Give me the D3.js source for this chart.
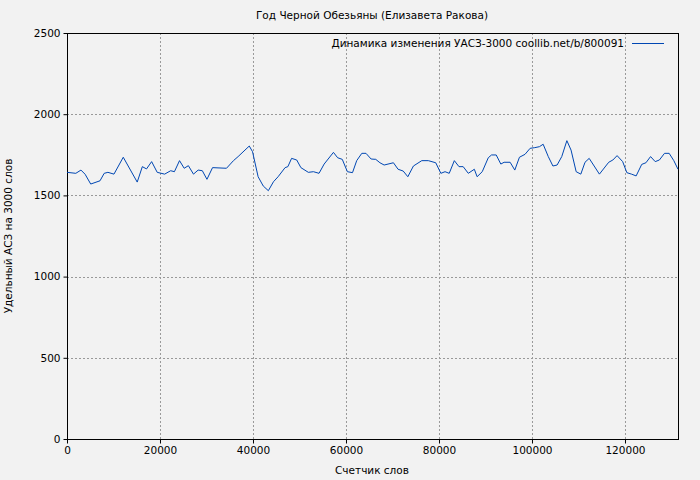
<!DOCTYPE html><html><head><meta charset="utf-8"><script src="https://cdn.jsdelivr.net/npm/d3@7"></script>
<style>body{margin:0;background:#f2f2f2}text{font-family:"DejaVu Sans",sans-serif;font-size:10.5px}</style></head><body><svg id="c" width="700" height="480"></svg>
<script>
const words=[0,1900,3000,3900,5100,7100,8000,8800,10100,12100,15100,16200,17100,18200,19400,21000,22300,23100,24200,25200,26100,27200,28200,29100,30100,31300,34300,35800,36800,39200,39900,41100,42200,43300,44400,45400,46900,47500,48300,49400,50300,51900,53000,54200,55300,57300,58200,59200,60300,61400,62300,63400,64300,65400,66400,67300,68200,70200,71200,72300,73300,74500,76300,77700,79300,80400,81300,82200,83300,84300,85200,86300,87600,88200,89300,90600,91300,92300,93300,94000,95300,96300,97300,98500,99600,100600,101600,102400,103500,104500,105400,106400,107500,108400,109500,110500,111400,112300,114500,116500,117400,118300,119500,120400,121400,122400,123600,124500,125500,126500,127400,128500,129500,130500,131400];
const values=[1642,1636,1656,1630,1570,1590,1636,1642,1631,1735,1582,1677,1663,1708,1642,1631,1652,1646,1714,1667,1683,1631,1656,1652,1599,1671,1667,1714,1739,1804,1769,1615,1558,1529,1584,1615,1671,1677,1728,1718,1671,1642,1646,1636,1693,1765,1732,1722,1646,1640,1714,1759,1759,1724,1722,1701,1687,1701,1661,1650,1615,1681,1714,1714,1701,1636,1646,1636,1714,1677,1677,1636,1661,1615,1646,1732,1749,1749,1693,1704,1704,1656,1735,1753,1790,1794,1800,1815,1739,1681,1687,1739,1837,1779,1646,1631,1704,1728,1631,1704,1718,1745,1708,1640,1631,1620,1691,1701,1739,1708,1718,1759,1759,1714,1661];
const xTicks=[0,20000,40000,60000,80000,100000,120000];
const yTicks=[0,500,1000,1500,2000,2500];
const svg=d3.select("#c");
const L=67,R=678,T=33,B=439;
const x=d3.scaleLinear().domain([0,131400]).range([L,R]);
const y=d3.scaleLinear().domain([0,2500]).range([B,T]);
const g=svg.append("g");
g.selectAll(".gx").data(xTicks.slice(1)).join("line").attr("x1",d=>x(d)+.5).attr("x2",d=>x(d)+.5).attr("y1",T).attr("y2",B).attr("stroke","#999").attr("stroke-dasharray","2,2");
g.selectAll(".gy").data(yTicks.slice(0,-1)).join("line").attr("y1",d=>Math.round(y(d))+.5).attr("y2",d=>Math.round(y(d))+.5).attr("x1",L).attr("x2",R).attr("stroke","#999").attr("stroke-dasharray","2,2");
svg.append("rect").attr("x",L+.5).attr("y",T+.5).attr("width",R-L).attr("height",B-T).attr("fill","none").attr("stroke","#000");
svg.append("g").attr("transform",`translate(0,${B+.5})`).call(d3.axisBottom(x).tickValues(xTicks).tickFormat(d3.format("d")).tickSizeOuter(0).tickSize(4)).call(a=>a.select(".domain").remove()).selectAll("text").style("font-size","10.5px");
svg.append("g").attr("transform",`translate(${L+.5},0)`).call(d3.axisLeft(y).tickValues(yTicks).tickFormat(d3.format("d")).tickSizeOuter(0).tickSize(4)).call(a=>a.select(".domain").remove()).selectAll("text").style("font-size","10.5px");
svg.append("path").datum(words.map((w,i)=>[w,values[i]])).attr("fill","none").attr("stroke","#0047b3").attr("stroke-width",1).attr("d",d3.line().x(d=>x(d[0])).y(d=>y(d[1])));
svg.append("text").attr("x",372).attr("y",19).attr("text-anchor","middle").text("Год Черной Обезьяны (Елизавета Ракова)");
svg.append("text").attr("x",372).attr("y",474).attr("text-anchor","middle").text("Счетчик слов");
svg.append("text").attr("transform","translate(12,236) rotate(-90)").attr("text-anchor","middle").text("Удельный АСЗ на 3000 слов");
svg.append("text").attr("x",624).attr("y",47).attr("text-anchor","end").text("Динамика изменения УАСЗ-3000 coollib.net/b/800091");
svg.append("line").attr("x1",632).attr("x2",664).attr("y1",43.5).attr("y2",43.5).attr("stroke","#0047b3");
</script></body></html>
